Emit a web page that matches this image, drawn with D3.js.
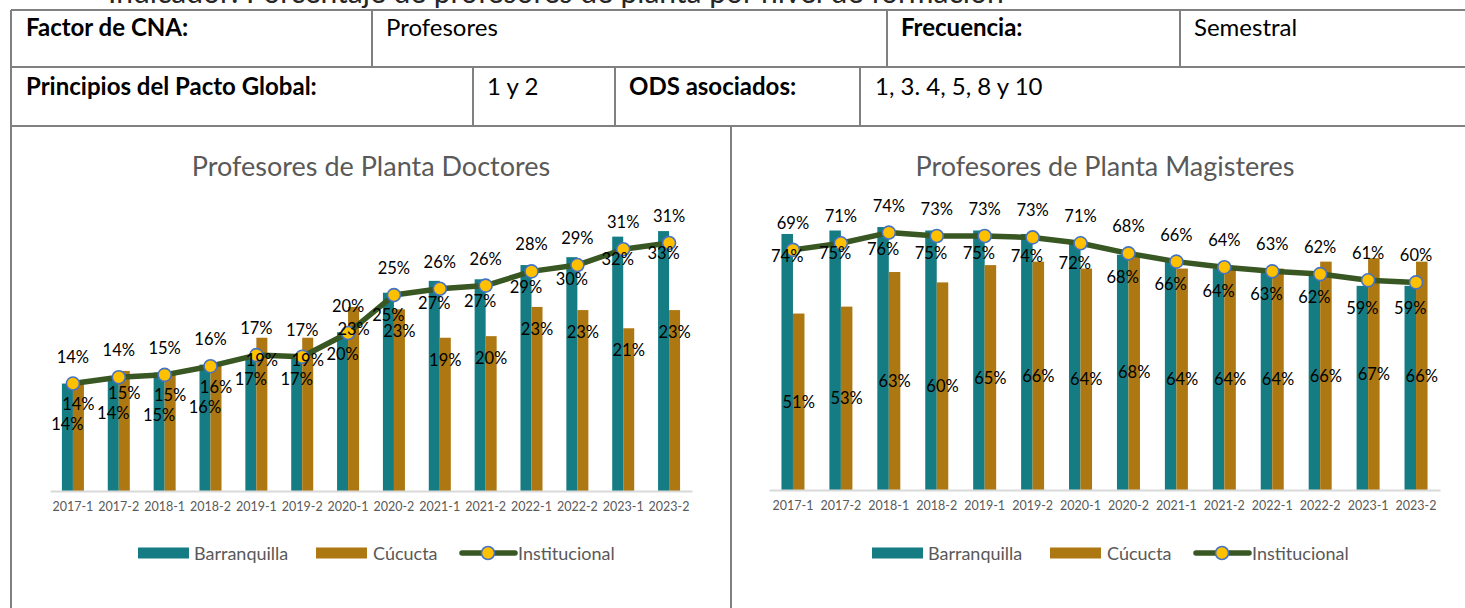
<!DOCTYPE html>
<html>
<head>
<meta charset="utf-8">
<script src="https://cdn.jsdelivr.net/npm/d3@7/dist/d3.min.js"></script>
<style>
  html, body { margin: 0; padding: 0; background: #ffffff; }
  svg { display: block; font-family: Lato, "Open Sans", sans-serif; }
</style>
</head>
<body>
<svg id="chart" width="1465" height="608"></svg>
<script>
// ---------------- DATA ----------------
const categories = ["2017-1","2017-2","2018-1","2018-2","2019-1","2019-2","2020-1","2020-2","2021-1","2021-2","2022-1","2022-2","2023-1","2023-2"];
const seriesNames = ["Barranquilla", "Cúcucta", "Institucional"];

// Profesores de Planta Doctores
const doctoresBarranquilla = [0.136, 0.14, 0.15, 0.16, 0.17, 0.17, 0.201, 0.251, 0.266, 0.268, 0.286, 0.296, 0.322, 0.329];
const doctoresCucuta       = [0.138, 0.152, 0.15, 0.16, 0.194, 0.194, 0.233, 0.23, 0.194, 0.196, 0.233, 0.229, 0.206, 0.229];
const doctoresInstitucional= [0.136, 0.144, 0.147, 0.158, 0.172, 0.170, 0.20, 0.248, 0.256, 0.26, 0.278, 0.286, 0.306, 0.314];

// Profesores de Planta Magisteres
const magisteresBarranquilla = [0.74, 0.75, 0.76, 0.75, 0.75, 0.74, 0.72, 0.68, 0.66, 0.64, 0.63, 0.62, 0.59, 0.59];
const magisteresCucuta       = [0.51, 0.53, 0.63, 0.60, 0.65, 0.66, 0.64, 0.68, 0.64, 0.64, 0.64, 0.66, 0.67, 0.66];
const magisteresInstitucional= [0.694, 0.713, 0.744, 0.734, 0.734, 0.73, 0.713, 0.684, 0.66, 0.644, 0.632, 0.624, 0.606, 0.60];

// Header table texts
const headerRow1 = ["Factor de CNA:", "Profesores", "Frecuencia:", "Semestral"];
const headerRow2 = ["Principios del Pacto Global:", "1 y 2", "ODS asociados:", "1, 3. 4, 5, 8 y 10"];
const chartTitles = ["Profesores de Planta Doctores", "Profesores de Planta Magisteres"];
const topTitle = "Indicador: Porcentaje de profesores de planta por nivel de formación";

// ---------------- STYLE ----------------
const C_TEAL = "#167C84";
const C_GOLD = "#AD7812";
const C_LINE = "#385723";
const C_MARK = "#FFC000";
const C_MARK_STROKE = "#4472C4";
const C_GRID = "#808080";
const C_TXT_GRAY = "#595959";

const svg = d3.select("#chart");
const fmt = d3.format(".0%");

// ---------------- TOP (clipped, as in the source page) TITLE ----------------
svg.append("text")
  .attr("x", 108).attr("y", 3)
  .attr("font-size", 30)
  .attr("fill", "#262626")
  .text(topTitle);

// ---------------- HEADER TABLE ----------------
const tbl = svg.append("g").attr("stroke", C_GRID).attr("stroke-width", 2).attr("fill", "none");
const hLines = [10, 67, 126];
hLines.forEach(y => tbl.append("line").attr("x1", 11).attr("x2", 1465).attr("y1", y).attr("y2", y));
tbl.append("line").attr("x1", 11).attr("x2", 11).attr("y1", 10).attr("y2", 608);
[372, 887, 1180].forEach(x => tbl.append("line").attr("x1", x).attr("x2", x).attr("y1", 10).attr("y2", 67));
[473, 615, 860].forEach(x => tbl.append("line").attr("x1", x).attr("x2", x).attr("y1", 67).attr("y2", 126));
tbl.append("line").attr("x1", 731).attr("x2", 731).attr("y1", 126).attr("y2", 608);

const r1x = [26, 386, 901, 1194];
const r2x = [26, 487, 629, 875];
const bold = [true, false, true, false];
headerRow1.forEach((t, i) => svg.append("text")
  .attr("x", r1x[i]).attr("y", 36)
  .attr("font-size", 24).attr("font-weight", bold[i] ? 700 : 400)
  .attr("fill", "#000").text(t));
headerRow2.forEach((t, i) => svg.append("text")
  .attr("x", r2x[i]).attr("y", 95)
  .attr("font-size", 24).attr("font-weight", bold[i] ? 700 : 400)
  .attr("fill", "#000").text(t));

// ---------------- CHARTS ----------------
function drawChart(opts) {
  const { x0, x1, base, yMax, pxPerUnit, barr, cuc, inst, title, titleX, cucCenter, legendX } = opts;
  const g = svg.append("g");

  const x = d3.scaleBand().domain(categories).range([x0, x1]).paddingInner(0).paddingOuter(0);
  const step = x.step();
  const bw = step * 0.24;
  const cx = c => x(c) + step / 2;
  const y = d3.scaleLinear().domain([0, yMax]).range([base, base - yMax * pxPerUnit]);

  g.append("text").attr("x", titleX).attr("y", 165)
    .attr("text-anchor", "middle").attr("dominant-baseline", "central")
    .attr("font-size", 27).attr("fill", C_TXT_GRAY).text(title);

  g.selectAll(".b1").data(categories).join("rect")
    .attr("x", c => cx(c) - bw).attr("width", bw)
    .attr("y", (c, i) => y(barr[i])).attr("height", (c, i) => base - y(barr[i]))
    .attr("fill", C_TEAL);
  g.selectAll(".b2").data(categories).join("rect")
    .attr("x", c => cx(c)).attr("width", bw)
    .attr("y", (c, i) => y(cuc[i])).attr("height", (c, i) => base - y(cuc[i]))
    .attr("fill", C_GOLD);

  const axis = g.append("g").attr("transform", `translate(0,${base})`)
    .call(d3.axisBottom(x).tickSize(0).tickPadding(11));
  axis.select(".domain").attr("stroke", "#D9D9D9").attr("stroke-width", 2);
  axis.selectAll("text").attr("font-size", 12.5).attr("fill", C_TXT_GRAY)
    .attr("font-family", "Lato, sans-serif");

  const line = d3.line().x((d, i) => cx(categories[i])).y(d => y(d));
  g.append("path").datum(inst).attr("d", line)
    .attr("fill", "none").attr("stroke", C_LINE).attr("stroke-width", 5.5)
    .attr("stroke-linejoin", "round").attr("stroke-linecap", "round");
  g.selectAll(".m").data(inst).join("circle")
    .attr("cx", (d, i) => cx(categories[i])).attr("cy", d => y(d)).attr("r", 6.5)
    .attr("fill", C_MARK).attr("stroke", C_MARK_STROKE).attr("stroke-width", 1.6);

  const lab = g.append("g").attr("font-size", 16.5).attr("fill", "#000")
    .attr("text-anchor", "middle").attr("dominant-baseline", "central");
  const cucY = cuc.map(v => cucCenter ? (y(v) + base) / 2 : y(v) + 22);
  const barrY = barr.map((v, i) => {
    let yy = y(v) + 22;
    if (Math.abs(yy - cucY[i]) < 16) yy = cucY[i] + 20;
    return yy;
  });
  inst.forEach((v, i) => lab.append("text").attr("x", cx(categories[i])).attr("y", y(v) - 27).text(fmt(v)));
  barr.forEach((v, i) => lab.append("text").attr("x", cx(categories[i]) - bw / 2).attr("y", barrY[i]).text(fmt(v)));
  cuc.forEach((v, i) => lab.append("text").attr("x", cx(categories[i]) + bw / 2).attr("y", cucY[i]).text(fmt(v)));

  const lg = g.append("g").attr("transform", `translate(${legendX},553)`)
    .attr("font-size", 18).attr("fill", C_TXT_GRAY);
  lg.append("rect").attr("x", 0).attr("y", -5.5).attr("width", 51).attr("height", 11).attr("fill", C_TEAL);
  lg.append("text").attr("x", 56).attr("y", 0).attr("dominant-baseline", "central").text(seriesNames[0]);
  lg.append("rect").attr("x", 178).attr("y", -5.5).attr("width", 51).attr("height", 11).attr("fill", C_GOLD);
  lg.append("text").attr("x", 235).attr("y", 0).attr("dominant-baseline", "central").text(seriesNames[1]);
  lg.append("line").attr("x1", 324).attr("x2", 377).attr("y1", 0).attr("y2", 0)
    .attr("stroke", C_LINE).attr("stroke-width", 5.5).attr("stroke-linecap", "round");
  lg.append("circle").attr("cx", 350).attr("cy", 0).attr("r", 6.5)
    .attr("fill", C_MARK).attr("stroke", C_MARK_STROKE).attr("stroke-width", 1.6);
  lg.append("text").attr("x", 380).attr("y", 0).attr("dominant-baseline", "central").text(seriesNames[2]);
}

drawChart({
  x0: 50, x1: 692, base: 491, yMax: 0.40, pxPerUnit: 790,
  barr: doctoresBarranquilla, cuc: doctoresCucuta, inst: doctoresInstitucional,
  title: chartTitles[0], titleX: 371, cucCenter: false, legendX: 138
});
drawChart({
  x0: 769, x1: 1440, base: 490, yMax: 1.0, pxPerUnit: 346,
  barr: magisteresBarranquilla, cuc: magisteresCucuta, inst: magisteresInstitucional,
  title: chartTitles[1], titleX: 1105, cucCenter: true, legendX: 872
});
</script>
</body>
</html>
